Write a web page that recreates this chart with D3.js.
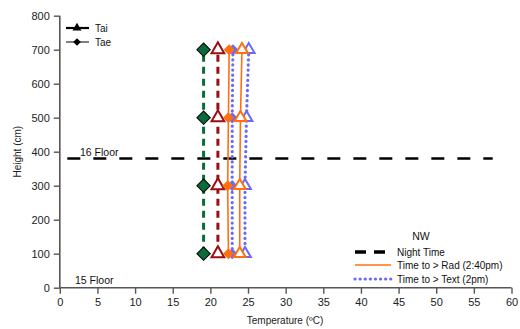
<!DOCTYPE html>
<html>
<head>
<meta charset="utf-8">
<script src="https://cdn.jsdelivr.net/npm/d3@7"></script>
<style>
  body { margin: 0; background: #fff; }
  text { font-family: "Liberation Sans", Arial, sans-serif; }
</style>
</head>
<body>
<script>
const width = 520;
const height = 329;

// data
const heights = [100, 300, 500, 700];
const taeNight = [19.1, 19.1, 19.1, 19.1];
const taiNight = [21.0, 21.0, 21.0, 21.0];
const taeRad = [22.4, 22.3, 22.4, 22.5];
const taeText = [22.9, 22.9, 22.9, 23.0];
const taiRad = [23.9, 23.9, 24.0, 24.2];
const taiText = [24.6, 24.6, 24.8, 25.1];
const floorLine = {y: 380, x0: 1, x1: 57.5};
const xTicks = d3.range(0, 61, 5);
const yTicks = d3.range(0, 801, 100);

const margin = {left: 59.8, right: 8.5, top: 15.7, bottom: 41.3};

const x = d3.scaleLinear().domain([0, 60]).range([margin.left, width - margin.right]);
const y = d3.scaleLinear().domain([0, 800]).range([height - margin.bottom, margin.top]);

const svg = d3.select('body').append('svg')
  .attr('width', width)
  .attr('height', height);

// axes
const xAxis = svg.append('g')
  .attr('transform', `translate(0,${y(0)})`)
  .call(d3.axisBottom(x).tickValues(xTicks).tickSize(6).tickPadding(5).tickFormat(d3.format('d')));
const yAxis = svg.append('g')
  .attr('transform', `translate(${x(0)},0)`)
  .call(d3.axisLeft(y).tickValues(yTicks).tickSize(6).tickPadding(4).tickFormat(d3.format('d')));

[xAxis, yAxis].forEach(a => {
  a.select('.domain').attr('stroke', '#555').attr('stroke-width', 1.6);
  a.selectAll('.tick line').attr('stroke', '#555').attr('stroke-width', 1.4);
  a.selectAll('.tick text').attr('fill', '#222').style('font-size', '11px');
});
xAxis.select('.domain').attr('d', `M${x(0)},0H${x(60)}`);
yAxis.select('.domain').attr('d', `M0,${y(0)}V${y(800)}`);

svg.append('text')
  .attr('x', 285).attr('y', 324)
  .attr('text-anchor', 'middle')
  .style('font-size', '10px')
  .attr('fill', '#222')
  .text('Temperature (ºC)');

svg.append('text')
  .attr('transform', `translate(21,${(y(0) + y(800)) / 2}) rotate(-90)`)
  .attr('text-anchor', 'middle')
  .style('font-size', '10px')
  .attr('fill', '#222')
  .text('Height (cm)');

// floor line
svg.append('line')
  .attr('x1', x(floorLine.x0)).attr('x2', x(floorLine.x1))
  .attr('y1', y(floorLine.y)).attr('y2', y(floorLine.y))
  .attr('stroke', '#000').attr('stroke-width', 2.6)
  .attr('stroke-dasharray', '13,13');

svg.append('text').attr('x', 80).attr('y', y(floorLine.y) - 3)
  .style('font-size', '10.5px').attr('fill', '#111').text('16 Floor');
svg.append('text').attr('x', 75).attr('y', y(0) - 4)
  .style('font-size', '10.5px').attr('fill', '#111').text('15 Floor');

const line = d3.line().x(d => x(d[0])).y(d => y(d[1]));

const series = [
  {vals: taeNight, color: '#0b6b3a', dash: '7,5', w: 3, cap: 'butt', marker: 'diamond', size: 90, fill: '#0b6b3a', mstroke: '#000'},
  {vals: taiNight, color: '#9b0f12', dash: '7,5', w: 3, cap: 'butt', marker: 'triangle', size: 70, fill: '#fff', mstroke: '#9b0f12'},
  {vals: taeText, color: '#6a6af5', dash: '0.1,5', w: 3.2, cap: 'round', marker: 'diamond', size: 45, fill: '#6a6af5', mstroke: '#6a6af5'},
  {vals: taiText, color: '#6a6af5', dash: '0.1,5', w: 3.2, cap: 'round', marker: 'triangle', size: 60, fill: '#fff', mstroke: '#6a6af5'},
  {vals: taeRad, color: '#ff7010', dash: null, w: 1.6, cap: 'butt', marker: 'diamond', size: 45, fill: '#ff7010', mstroke: '#ff7010'},
  {vals: taiRad, color: '#ff7010', dash: null, w: 1.6, cap: 'butt', marker: 'triangle', size: 60, fill: '#fff', mstroke: '#ff7010'}
];

const symbolOf = m => m === 'diamond' ? d3.symbolSquare : d3.symbolTriangle;

series.forEach(s => {
  const pts = s.vals.map((v, i) => [v, heights[i]]);
  svg.append('path')
    .attr('d', line(pts))
    .attr('fill', 'none')
    .attr('stroke', s.color)
    .attr('stroke-width', s.w)
    .attr('stroke-linecap', s.cap)
    .attr('stroke-dasharray', s.dash);
});

series.forEach(s => {
  const pts = s.vals.map((v, i) => [v, heights[i]]);
  svg.append('g').selectAll('path')
    .data(pts)
    .enter().append('path')
      .attr('d', d3.symbol().type(symbolOf(s.marker)).size(s.size))
      .attr('transform', d => `translate(${x(d[0])},${y(d[1])})` + (s.marker === 'diamond' ? ' rotate(45)' : ''))
      .attr('fill', s.fill)
      .attr('stroke', s.mstroke)
      .attr('stroke-width', s.marker === 'triangle' ? 2 : 1);
});

// legend top-left
const legTL = svg.append('g');
[['Tai', 'triangle', 2.2, 28], ['Tae', 'diamond', 1, 42]].forEach(([name, m, w, ly]) => {
  legTL.append('line').attr('x1', 66).attr('x2', 89).attr('y1', ly).attr('y2', ly)
    .attr('stroke', '#000').attr('stroke-width', w);
  legTL.append('path')
    .attr('d', d3.symbol().type(symbolOf(m)).size(m === 'diamond' ? 30 : 35))
    .attr('transform', `translate(77,${ly})` + (m === 'diamond' ? ' rotate(45)' : ''))
    .attr('fill', '#000');
  legTL.append('text').attr('x', 95).attr('y', ly + 4)
    .style('font-size', '10px').attr('fill', '#111').text(name);
});

// legend bottom-right
const legBR = svg.append('g');
legBR.append('text').attr('x', 421).attr('y', 240).attr('text-anchor', 'middle')
  .style('font-size', '10.5px').attr('fill', '#111').text('NW');
const legItems = [
  {label: 'Night Time', color: '#000', dash: '11,8', w: 3.4, cap: 'butt', ly: 252},
  {label: 'Time to > Rad (2:40pm)', color: '#ff7010', dash: null, w: 1.4, cap: 'butt', ly: 265},
  {label: 'Time to > Text (2pm)', color: '#6a6af5', dash: '0.1,5', w: 3.2, cap: 'round', ly: 279}
];
legItems.forEach(it => {
  legBR.append('line').attr('x1', 355).attr('x2', 391).attr('y1', it.ly).attr('y2', it.ly)
    .attr('stroke', it.color).attr('stroke-width', it.w)
    .attr('stroke-linecap', it.cap).attr('stroke-dasharray', it.dash);
  legBR.append('text').attr('x', 397).attr('y', it.ly + 3.5)
    .style('font-size', '10px').attr('fill', '#111').text(it.label);
});
</script>
</body>
</html>
